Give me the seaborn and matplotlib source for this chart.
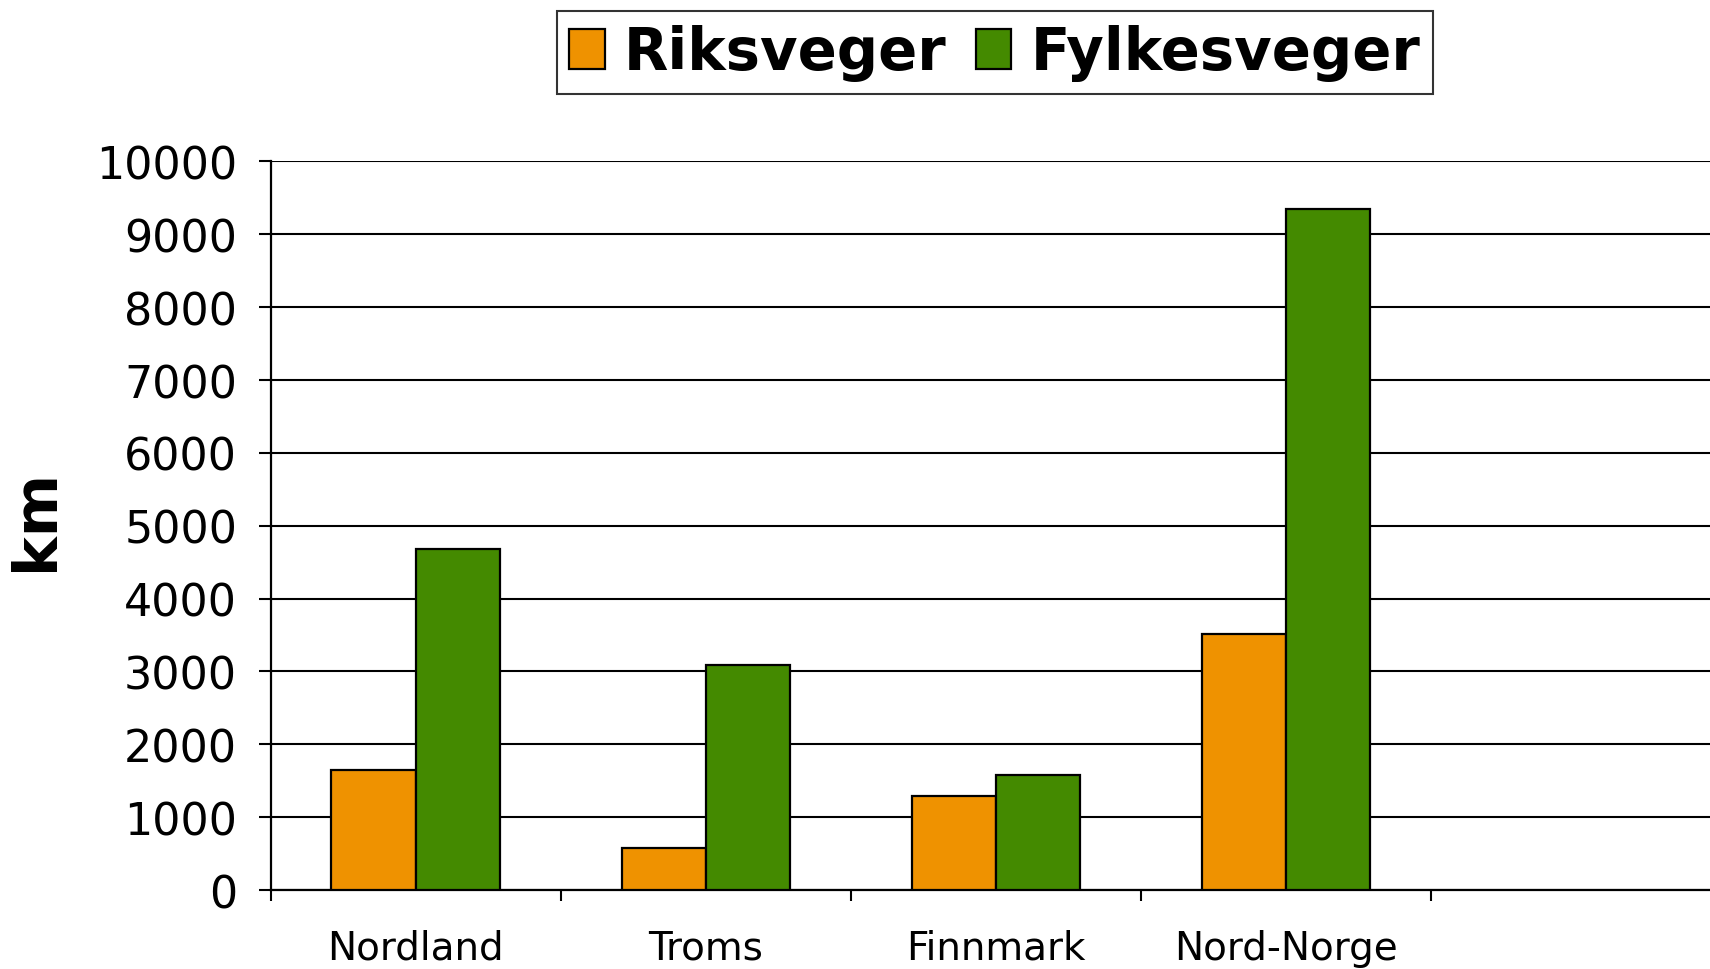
import numpy as np
import pandas as pd
import matplotlib
matplotlib.use('Agg')
import matplotlib.pyplot as plt
import seaborn as sns
from matplotlib.ticker import FixedLocator

# data (km)
regions = ['Nordland', 'Troms', 'Finnmark', 'Nord-Norge']
riksveger = [1645, 580, 1290, 3515]
fylkesveger = [4680, 3090, 1580, 9350]
series = ['Riksveger', 'Fylkesveger']
colors = ['#EF9200', '#448A00']
yticks = [0, 1000, 2000, 3000, 4000, 5000, 6000, 7000, 8000, 9000, 10000]

df = pd.DataFrame({
    'Region': regions * 2,
    'Type': [series[0]] * 4 + [series[1]] * 4,
    'km': riksveger + fylkesveger,
})

sns.set_style('white')
plt.rcParams['font.family'] = ['DejaVu Sans']
plt.rcParams['text.color'] = 'black'
plt.rcParams['axes.labelcolor'] = 'black'
plt.rcParams['xtick.color'] = 'black'
plt.rcParams['ytick.color'] = 'black'

fig = plt.figure(figsize=(17.1, 9.7), dpi=100)
ax = fig.add_axes([0.1582, 0.0814, 0.8485, 0.7511])

sns.barplot(data=df, x='Region', y='km', hue='Type', order=regions,
            palette=colors, width=0.58, gap=0, edgecolor='black',
            linewidth=1.6, saturation=1, errorbar=None, ax=ax, zorder=3)

ax.set_xlim(-0.5, 4.5)
ax.set_ylim(0, 10000)
ax.set_yticks(yticks)
ax.set_yticklabels([str(v) for v in yticks])
ax.yaxis.grid(True, color='black', linewidth=1.5, zorder=0)
ax.xaxis.grid(False)
ax.set_axisbelow(True)

for s in ['top', 'right']:
    ax.spines[s].set_visible(False)
for s in ['left', 'bottom']:
    ax.spines[s].set_color('black')
    ax.spines[s].set_linewidth(1.6)

ax.tick_params(axis='y', which='major', length=9, width=1.5, color='black',
               labelsize=32, labelcolor='black', pad=15, left=True)
ax.tick_params(axis='x', which='major', length=0, labelsize=28,
               labelcolor='black', pad=28)
ax.xaxis.set_minor_locator(FixedLocator(np.arange(-0.5, 5, 1.0)))
ax.tick_params(axis='x', which='minor', length=8, width=1.5, color='black',
               bottom=True)

ax.set_xlabel('')
ax.set_ylabel('km', fontsize=43, fontweight='bold', color='black')
ax.yaxis.set_label_coords(-0.141, 0.509)

ax.get_legend().remove()
handles = [plt.Rectangle((0, 0), 1, 1, facecolor=c, edgecolor='black', linewidth=1.6)
           for c in colors]
leg = fig.legend(handles, series, loc='center', bbox_to_anchor=(0.5817, 0.945),
                 ncol=2, frameon=True, fancybox=False,
                 prop={'weight': 'bold', 'size': 41.5},
                 handlelength=0.62, handleheight=0.7, handletextpad=0.33,
                 columnspacing=0.5, borderpad=0.22, borderaxespad=0)
leg.get_frame().set_edgecolor('black')
leg.get_frame().set_linewidth(1.5)
for t in leg.get_texts():
    t.set_color('black')

plt.savefig('out.png', dpi=100)
